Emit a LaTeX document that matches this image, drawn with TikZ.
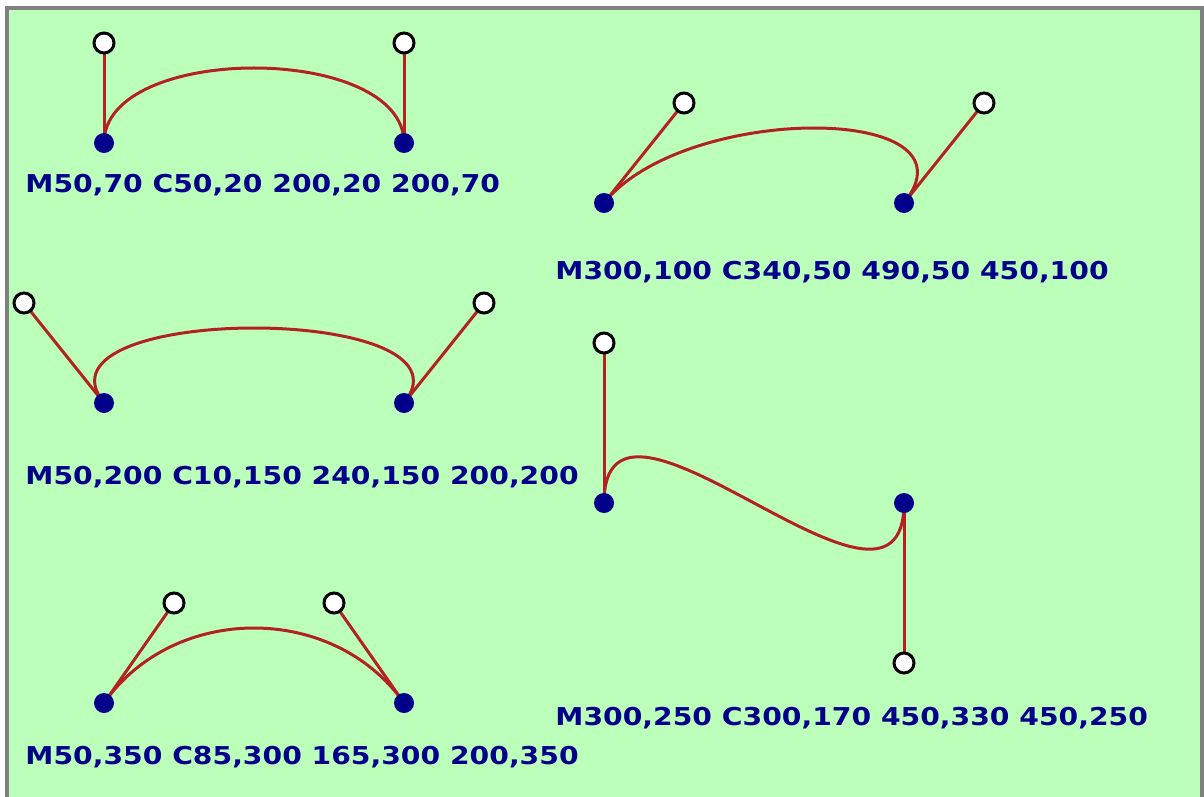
\documentclass[tikz,border=0pt]{standalone}
\usepackage{fontspec}
\setmainfont{DejaVu Sans}

\definecolor{bgreen}{HTML}{BBFFBB}
\definecolor{fgray}{HTML}{808080}
\definecolor{pblue}{HTML}{00008B}
\definecolor{cred}{HTML}{B22222}

\tikzset{
  ctl/.style={draw=cred, line width=1.5pt},
  lbl/.style={anchor=base west, inner sep=0pt, text=pblue, xscale=1.147,
    font=\bfseries\fontsize{12.3}{14}\selectfont}
}

\begin{document}
\begin{tikzpicture}[x=1pt,y=-1pt]

\useasboundingbox (-2,-1.5) rectangle (600,397);
\fill [white] (-2,-1.5) rectangle (600,397);
\filldraw [fill=bgreen, draw=fgray, line width=2pt] (1.5,2.5) rectangle (599,410);

% end points and control points
\coordinate (a0) at (50,70);
\coordinate (a1) at (50,20);
\coordinate (a2) at (200,20);
\coordinate (a3) at (200,70);

\coordinate (b0) at (300,100);
\coordinate (b1) at (340,50);
\coordinate (b2) at (490,50);
\coordinate (b3) at (450,100);

\coordinate (c0) at (50,200);
\coordinate (c1) at (10,150);
\coordinate (c2) at (240,150);
\coordinate (c3) at (200,200);

\coordinate (d0) at (300,250);
\coordinate (d1) at (300,170);
\coordinate (d2) at (450,330);
\coordinate (d3) at (450,250);

\coordinate (e0) at (50,350);
\coordinate (e1) at (85,300);
\coordinate (e2) at (165,300);
\coordinate (e3) at (200,350);

\foreach \c in {a,b,c,d,e} {
    \draw [ctl] (\c0) -- (\c1);
    \draw [ctl] (\c3) -- (\c2);
    \draw [ctl] (\c0) .. controls (\c1) and (\c2) .. (\c3);
    \foreach \i in {0,3}
        \fill [pblue] (\c\i) circle (5pt);
    \foreach \i in {1,2}
        \filldraw [fill=white, draw=black, line width=1.5pt] (\c\i) circle (5pt);
}

\node [lbl] (ta) at (10.5,95) {M50,70 C50,20 200,20 200,70};
\node [lbl] (tb) at (275.5,138) {M300,100 C340,50 490,50 450,100};
\node [lbl] (tc) at (10.5,240.5) {M50,200 C10,150 240,150 200,200};
\node [lbl] (td) at (275.5,361) {M300,250 C300,170 450,330 450,250};
\node [lbl] (te) at (10.5,380.5) {M50,350 C85,300 165,300 200,350};

\end{tikzpicture}
\end{document}
